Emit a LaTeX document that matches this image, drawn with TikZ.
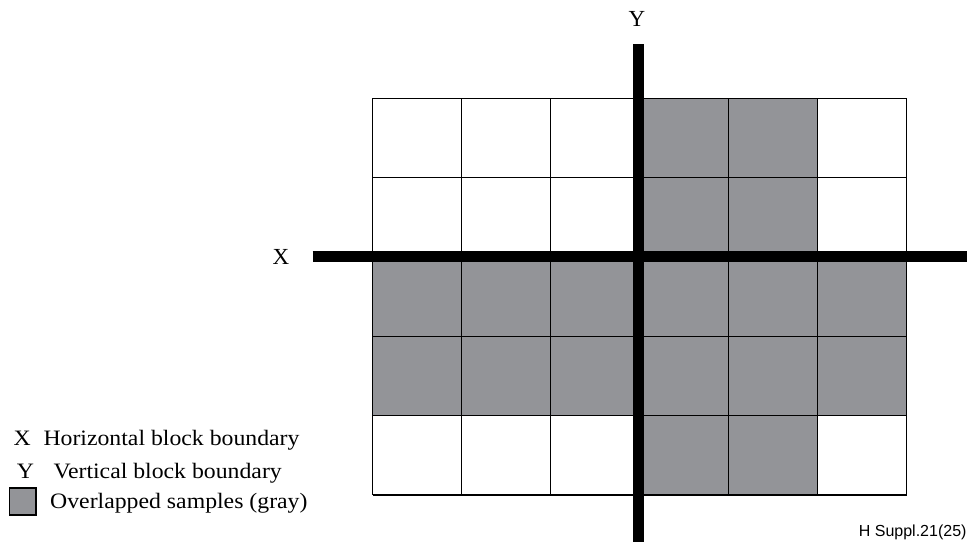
\documentclass[tikz,border=0pt]{standalone}
\usepackage{fontspec}
\setmainfont{Liberation Serif}
\newfontfamily\arialfont{Liberation Sans}
\definecolor{cellgray}{RGB}{147,148,152}
\begin{document}
\begin{tikzpicture}[x=1pt,y=-1pt,
  gridline/.style={draw=black,line width=1.2pt},
  axisline/.style={draw=black,line width=11pt},
  axislabel/.style={font=\fontsize{23}{27}\selectfont,inner sep=0pt,anchor=base},
  legendtext/.style={font=\fontsize{22}{26}\selectfont,inner sep=0pt,anchor=base west},
  graycell/.style={fill=cellgray}]
\useasboundingbox (0,0) rectangle (969,542);
% gray areas
\fill[graycell] (639.65,98.3) rectangle (817.55,495.0);
\fill[graycell] (372.8,257.0) rectangle (906.5,415.6);
% grid
\foreach \x in {372.8,461.75,550.7,639.65,728.6,817.55,906.5}
  \draw[gridline] (\x,98.3) -- (\x,495.0);
\foreach \y in {98.3,177.6,257.0,336.3,415.6,495.0}
  \draw[gridline] (372.8,\y) -- (906.5,\y);
% axes
\coordinate (ytop) at (638,44.3);
\coordinate (ybot) at (638,542);
\coordinate (xleft) at (312.7,256.6);
\coordinate (xright) at (966.7,256.6);
\draw[axisline] (ytop) -- (ybot);
\draw[axisline] (xleft) -- (xright);
\node[axislabel] (ylab) at (637,26.7) {Y};
\node[axislabel] (xlab) at (281,264) {X};
% legend
\node[legendtext] (lx) at (13.3,445.7) {\scalebox{1.08}[1]{X}};
\node[legendtext] (lxt) at (43.3,445.7) {\scalebox{1.08}[1]{Horizontal block boundary}};
\node[legendtext] (ly) at (16.7,478.3) {\scalebox{1.08}[1]{Y}};
\node[legendtext] (lyt) at (53.3,478.3) {\scalebox{1.08}[1]{Vertical block boundary}};
\draw[fill=cellgray,draw=black,line width=1.3pt] (9.3,488) rectangle (36,515);
\node[legendtext] (lgt) at (50,508.3) {\scalebox{1.08}[1]{Overlapped samples (gray)}};
% reference
\node[font=\arialfont\fontsize{16}{19}\selectfont,inner sep=0pt,anchor=base east] (ref) at (966.7,536.7) {H Suppl.21(25)};
\end{tikzpicture}
\end{document}
